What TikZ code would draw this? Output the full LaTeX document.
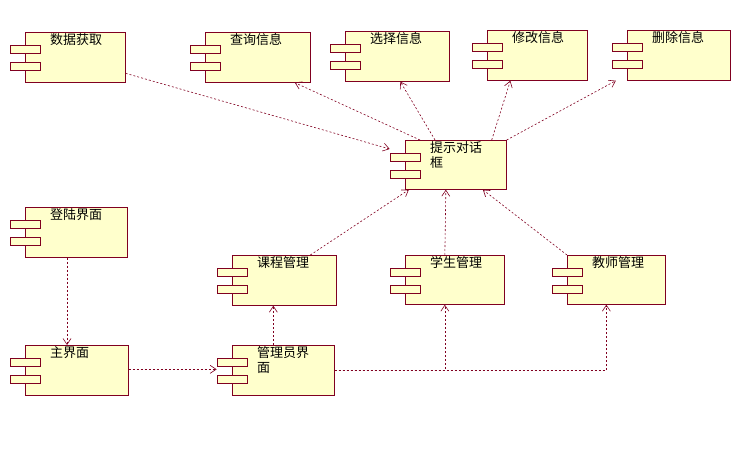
\documentclass[tikz,border=0pt]{standalone}
\usepackage{fontspec}
\setmainfont{Noto Sans CJK SC}
\usetikzlibrary{arrows.meta,calc,positioning}
\definecolor{umlline}{RGB}{128,0,32}
\definecolor{umlfill}{RGB}{255,255,204}
\tikzset{
  comp/.style={draw=umlline, fill=umlfill, inner sep=0pt, line width=0.7pt},
  port/.style={draw=umlline, fill=umlfill, inner sep=0pt, minimum width=30pt, minimum height=8pt, line width=0.7pt},
  lbl/.style={anchor=north west, inner sep=0pt, align=left, font=\fontsize{13}{15}\selectfont},
  dep/.style={draw=umlline, dash pattern=on 2pt off 2pt, line width=0.6pt, -{Straight Barb[length=6pt,width=8pt]}}
}
% component: name, x, y (top left), width, height, text
\newcommand{\umlcomp}[6]{
  \node[comp, anchor=north west, minimum width=#4pt, minimum height=#5pt] (#1) at (#2,#3) {};
  \node[port] (#1a) at ($(#1.north west)+(0,17)$) {};
  \node[port] (#1b) at ($(#1.north west)+(0,34)$) {};
  \node[lbl, text width=62pt] (#1t) at ($(#1.north west)+(25,1)$) {#6};
}
\begin{document}
\begin{tikzpicture}[x=1pt,y=-1pt]
  \useasboundingbox (0,0) rectangle (749,454);
  % top row
  \umlcomp{data}{25}{32}{100}{50}{数据获取}
  \umlcomp{query}{205}{32}{105}{50}{查询信息}
  \umlcomp{select}{345}{31}{104}{50}{选择信息}
  \umlcomp{modify}{487}{30}{100}{50}{修改信息}
  \umlcomp{delete}{627}{30}{103}{50}{删除信息}
  % dialog
  \umlcomp{tip}{405}{140}{101}{49}{提示对话\\框}
  % middle
  \umlcomp{login}{25}{207}{102}{50}{登陆界面}
  \umlcomp{course}{232}{255}{104}{50}{课程管理}
  \umlcomp{stu}{405}{255}{99}{49}{学生管理}
  \umlcomp{tea}{567}{255}{98}{49}{教师管理}
  % bottom
  \umlcomp{main}{25}{345}{103}{50}{主界面}
  \umlcomp{adm}{232}{345}{102}{50}{管理员界\\面}

  % dependencies
  \draw[dep] ($(data.east)+(0,16)$) -- ($(tipa.west)+(0,-8)$);
  \draw[dep] ($(tip.north west)+(15,0)$) -- ($(query.south)+(37,0)$);
  \draw[dep] ($(tip.north west)+(30,0)$) -- ($(select.south)+(3,0)$);
  \draw[dep] ($(tip.north east)+(-15,0)$) -- ($(modify.south)+(-27,0)$);
  \draw[dep] (tip.north east) -- ($(delete.south)+(-63,0)$);
  \draw[dep] ($(course.north)+(26,0)$) -- ($(tip.south)+(-47,0)$);
  \draw[dep] ($(stu.north)+(-10,0)$) -- ($(tip.south)+(-10,0)$);
  \draw[dep] (tea.north west) -- ($(tip.south)+(27,0)$);
  \draw[dep] ($(login.south west)+(42,0)$) -- ($(main.north west)+(42,0)$);
  \draw[dep] ($(main.east)+(0,-1)$) -- ($(main.east -| adma.west)+(0,-1)$);
  \draw[dep] ($(adm.north)+(-10,0)$) -- ($(course.south)+(-11,0)$);
  \draw[dep] (adm.east) -| ($(stu.south)+(-10,0)$);
  \draw[dep] (adm.east) -| ($(tea.south)+(-10,0)$);
\end{tikzpicture}
\end{document}
